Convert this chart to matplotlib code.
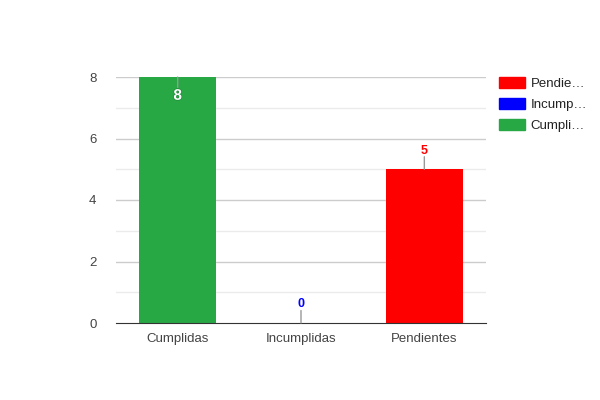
import matplotlib
matplotlib.use("Agg")
import matplotlib.pyplot as plt
from matplotlib.patches import Patch
import matplotlib.patheffects as pe

# data
categorias = ["Cumplidas", "Incumplidas", "Pendientes"]
valores = [8, 0, 5]
colores = ["#28a745", "#0000ff", "#ff0000"]
leyenda = ["Pendie…", "Incump…", "Cumpli…"]
colores_leyenda = ["#ff0000", "#0000ff", "#28a745"]

plt.rcParams["font.family"] = ["Liberation Sans", "DejaVu Sans"]

fig = plt.figure(figsize=(6, 4), dpi=100)
ax = fig.add_axes([116 / 600, 77 / 400, 370 / 600, 246 / 400])

x = list(range(len(categorias)))
ax.bar(x, valores, width=0.62, color=colores, zorder=3)

# gridlines
for v in range(1, 9):
    c = "#cccccc" if v % 2 == 0 else "#ebebeb"
    ax.axhline(v, color=c, lw=1, zorder=1)

ax.set_xlim(-0.5, 2.5)
ax.set_ylim(0, 8)
ax.set_yticks([0, 2, 4, 6, 8])
ax.set_xticks(x)
ax.set_xticklabels(categorias)
ax.tick_params(length=0, labelsize=9.5, colors="#444444")
ax.tick_params(axis="y", pad=14)
ax.tick_params(axis="x", pad=7)
for s in ["top", "right", "left"]:
    ax.spines[s].set_visible(False)
ax.spines["bottom"].set_color("#333333")
ax.spines["bottom"].set_zorder(4)

stem = dict(arrowstyle="-", color="#999999", lw=1, shrinkA=0, shrinkB=0)

# annotations with stems
for xi, v, c in zip(x, valores, colores):
    if v >= 8:
        # label goes inside the bar
        ax.annotate("", xy=(xi, v), xytext=(0, -7.5), textcoords="offset points",
                    arrowprops=stem, zorder=5)
        ax.annotate(str(v), xy=(xi, v), xytext=(0, -13.5), textcoords="offset points",
                    ha="center", va="center", color="white", fontsize=11, fontweight="bold",
                    zorder=6, path_effects=[pe.withStroke(linewidth=1.0, foreground="#1f8a3a")])
    else:
        ax.annotate("", xy=(xi, v), xytext=(0, 9), textcoords="offset points",
                    arrowprops=stem, zorder=5)
        ax.annotate(str(v), xy=(xi, v), xytext=(0, 13.5), textcoords="offset points",
                    ha="center", va="center", color=c, fontsize=9, fontweight="bold", zorder=6)

handles = [Patch(color=c) for c in colores_leyenda]
leg = fig.legend(handles, leyenda, loc="upper left", bbox_to_anchor=(495 / 600, 1 - 73 / 400),
                 frameon=False, fontsize=9.5, handlelength=1.95, handleheight=0.9,
                 handletextpad=0.45, labelspacing=0.62, borderaxespad=0, borderpad=0.3)
for t in leg.get_texts():
    t.set_color("#222222")

fig.savefig("out.png", dpi=100)
